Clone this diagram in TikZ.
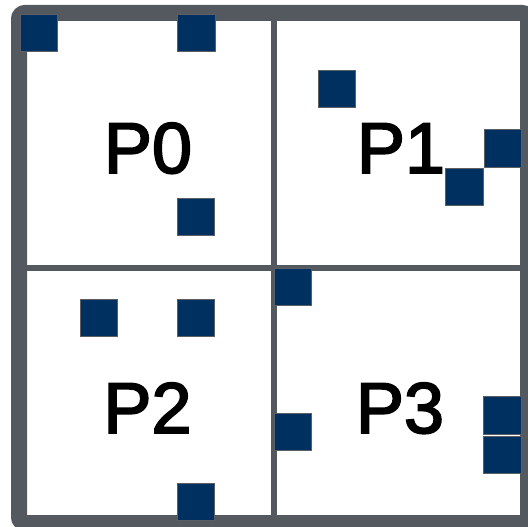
\documentclass[tikz,border=0pt]{standalone}
\usepackage{fontspec}
\setmainfont{Liberation Sans}
\newfontfamily\lblfont[FakeBold=2.5]{Liberation Sans}
\definecolor{frame}{HTML}{54595F}
\definecolor{navy}{HTML}{003060}
\definecolor{sqedge}{HTML}{5A5F66}
\begin{document}
\begin{tikzpicture}[x=1pt,y=-1pt,
  sq/.style={draw=sqedge,line width=1.2pt,fill=navy,minimum size=37.5pt,inner sep=0pt,outer sep=0pt},
  lbl/.style={font=\lblfont\fontsize{72}{80}\selectfont,anchor=base,inner sep=0pt},
  divider/.style={draw=frame,line width=6pt},
  border/.style={draw=frame,line width=16pt,rounded corners=6pt}]
\useasboundingbox (0,0) rectangle (528,527);
\fill[white] (0,0) rectangle (528,527);
% dividers
\coordinate (vt) at (274,13);
\coordinate (vb) at (274,523);
\coordinate (hl) at (19,268);
\coordinate (hr) at (528,268);
\draw[divider] (vt) -- (vb);
\draw[divider] (hl) -- (hr);
% frame
\draw[border] (19,13) rectangle (528,523);
% labels
\node[lbl] (p0) at (148,173) {P0};
\node[lbl] (p1) at (401,173) {P1};
\node[lbl] (p2) at (147.5,433) {P2};
\node[lbl] (p3) at (400,433) {P3};
% squares
\node[sq] (s1) at (39,33) {};
\node[sq] (s2) at (196.5,33) {};
\node[sq] (s3) at (196,217) {};
\node[sq] (s4) at (337,89) {};
\node[sq] (s5) at (503,148.5) {};
\node[sq] (s6) at (464.5,187) {};
\node[sq] (s7) at (293,287) {};
\node[sq] (s8) at (99,318) {};
\node[sq] (s9) at (196,318) {};
\node[sq] (s10) at (293,432) {};
\node[sq] (s11) at (502.5,415.5) {};
\node[sq] (s12) at (502.5,455) {};
\node[sq] (s13) at (196,502) {};
\end{tikzpicture}
\end{document}
